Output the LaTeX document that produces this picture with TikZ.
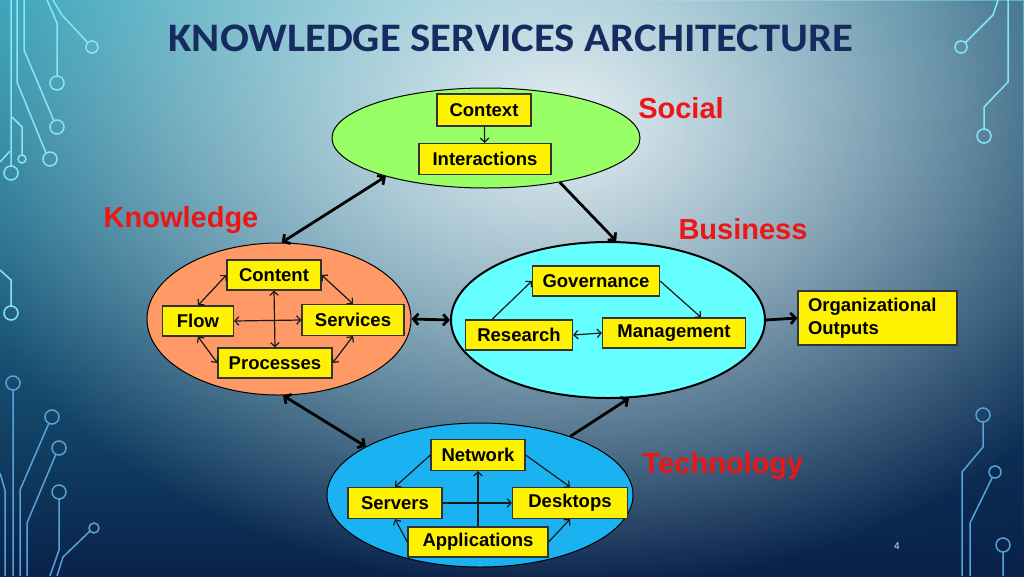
\documentclass[tikz,border=0pt]{standalone}
\usepackage{graphicx}
\usepackage{fontspec}
\setmainfont{Liberation Sans}
\newfontfamily\titlefont{Carlito}
\usetikzlibrary{shapes.geometric,arrows.meta,fadings}
\definecolor{bgtop}{RGB}{44,158,182}
\definecolor{bgmid}{RGB}{24,100,140}
\definecolor{bgbot}{RGB}{9,34,74}
\definecolor{glowc}{RGB}{230,238,242}
\definecolor{titleblue}{RGB}{22,44,96}
\definecolor{lblred}{RGB}{236,22,22}
\definecolor{socg}{RGB}{153,255,102}
\definecolor{knwo}{RGB}{255,153,102}
\definecolor{busc}{RGB}{102,255,255}
\definecolor{tecb}{RGB}{26,178,240}
\definecolor{circA}{RGB}{130,232,244}
\definecolor{circB}{RGB}{88,162,218}
\definecolor{pagenum}{RGB}{220,228,236}
\tikzfading[name=glowfade, inner color=transparent!0, outer color=transparent!100]
\tikzfading[name=rightdark, left color=transparent!100, right color=transparent!40]
\newcommand{\boxf}{\fontsize{18.5}{22}\selectfont\bfseries}
\newcommand{\lblf}{\fontsize{29}{32}\selectfont\bfseries}
\tikzset{
  ell/.style={ellipse, draw=black, line width=1pt, inner sep=0pt},
  box/.style={draw=black!80, fill=yellow, line width=1.2pt, inner sep=0pt, minimum height=30, font=\boxf},
  lbl/.style={text=lblred, font=\lblf, anchor=base, inner sep=0pt},
  bigarr/.style={line width=2.8pt, draw=black},
  dbl/.style={{Straight Barb[length=5pt,width=11pt]}-{Straight Barb[length=5pt,width=11pt]}},
  sgl/.style={-{Straight Barb[length=5pt,width=11pt]}},
  small/.style={line width=1.2pt, draw=black!90},
  sdbl/.style={{Straight Barb[length=4pt,width=8.5pt]}-{Straight Barb[length=4pt,width=8.5pt]}},
  ssgl/.style={-{Straight Barb[length=4pt,width=8.5pt]}},
  circa/.style={line width=1.5pt, draw=circA},
  circb/.style={line width=1.5pt, draw=circB},
}
\begin{document}
\begin{tikzpicture}[x=1pt,y=-1pt]
\useasboundingbox (0,0) rectangle (1024,576);
\clip (0,0) rectangle (1024,576);
% background
\shade[top color=bgtop, middle color=bgmid, bottom color=bgbot] (0,0) rectangle (1024,576);
\fill[bgbot, path fading=rightdark] (450,0) rectangle (1024,576);
\fill[glowc, path fading=glowfade] (560,120) ellipse [x radius=640, y radius=470];
% circuit decorations, top left
\draw[circa] (11,0) -- (11,166) (11,173) circle (7);
\draw[circa] (17,0) -- (17,82) -- (46,153) (50,159) circle (7);
\draw[circa] (24,0) -- (24,50) -- (54,121) (57,127) circle (7);
\draw[circa] (47,0) -- (57,23) -- (57,76) (57,83) circle (7);
\draw[circa] (53,0) -- (62,15) -- (88,43) (92,47) circle (6);
\draw[circa] (12,117) -- (22,127) -- (22,155) (22,159) circle (4);
\draw[circa] (0,162) -- (10,151);
% mid left
\draw[circa] (0,270) -- (11,280) -- (11,306) (11,313) circle (7);
% bottom left
\draw[circb] (13,390) -- (13,576) (13,383) circle (7);
\draw[circb] (49,423) -- (20,490) -- (20,576) (52,417) circle (7);
\draw[circb] (56,454) -- (27,523) -- (27,576) (59,448) circle (7);
\draw[circb] (59,499) -- (59,550) -- (50,576) (59,492) circle (7);
\draw[circb] (90,531) -- (63,557) -- (57,576) (94,528) circle (5);
\draw[circb] (0,473) -- (5,490) -- (5,576);
% top right
\draw[circa] (998,0) -- (993,15) -- (965,43) (961,47) circle (6);
\draw[circa] (1008,0) -- (1008,82) -- (984,107) -- (984,129) (984,136) circle (7);
% bottom right
\draw[circb] (983,422) -- (983,447) -- (962,472) -- (962,576) (983,415) circle (7);
\draw[circb] (992,478) -- (970,523) -- (970,576) (995,472) circle (6);
\draw[circb] (1003,552) -- (1003,576) (1003,545) circle (7);
% title and labels
\node[font=\titlefont\fontsize{40.5}{42}\selectfont\bfseries, text=titleblue, anchor=base, inner sep=0pt] (title) at (511,51) {\scalebox{1.055}[1]{KNOWLEDGE SERVICES ARCHITECTURE}};
\node[lbl] (lsoc) at (681,118) {Social};
\node[lbl] (lknw) at (181,227) {Knowledge};
\node[lbl] (lbus) at (743,239) {Business};
\node[lbl] (ltec) at (723,473) {Technology};
\node[text=pagenum, font=\fontsize{10}{12}\selectfont, anchor=base, inner sep=0pt] (pnum) at (897,549) {4};
% ellipses
\node[ell, fill=socg, minimum width=308, minimum height=100] (soc) at (486,138) {};
\node[ell, fill=knwo, minimum width=264, minimum height=152] (knw) at (279,319) {};
\node[ell, fill=busc, line width=2pt, minimum width=314, minimum height=156] (bus) at (608,320) {};
\node[ell, fill=tecb, minimum width=306, minimum height=144] (tec) at (480,495) {};
% social boxes
\node[box, minimum width=94, minimum height=32] (ctx) at (484,110) {Context};
\node[box, minimum width=132, minimum height=31] (int) at (485,159) {Interactions};
\draw[small, ssgl] (ctx) -- (int);
% knowledge boxes
\node[box, minimum width=94] (cont) at (274,275) {Content};
\node[box, minimum width=71] (flow) at (198,321) {Flow};
\node[box, minimum width=102, minimum height=31] (serv) at (353,320) {Services};
\node[box, minimum width=114] (proc) at (275,363) {Processes};
\draw[small, sdbl] (cont.west) -- (flow.north);
\draw[small, sdbl] (cont.east) -- (serv.north);
\draw[small, sdbl] (flow.south) -- (proc.west);
\draw[small, sdbl] (serv.south) -- (proc.east);
\draw[small, sdbl] (flow.east) -- (serv.west);
\draw[small, sdbl] (cont.south) -- (proc.north);
% business boxes
\node[box, minimum width=127] (gov) at (596,281) {Governance};
\node[box, minimum width=107] (res) at (519,335) {Research};
\node[box, minimum width=143] (man) at (674,333) {Management};
\draw[small, ssgl] (res.150) -- (gov.west);
\draw[small, ssgl] (gov.east) -- (man.30);
\draw[small, sdbl] (res.east) -- (man.west);
% technology boxes
\node[box, minimum width=94, minimum height=31] (net) at (478,455) {Network};
\node[box, minimum width=94, minimum height=31] (srv) at (395,503) {Servers};
\node[box, minimum width=115, minimum height=31] (dsk) at (570,503) {Desktops};
\node[box, minimum width=140] (app) at (478,542) {Applications};
\draw[small, ssgl] (net.west) -- (srv.north);
\draw[small, ssgl] (net.east) -- (dsk.north);
\draw[small, ssgl] (srv.east) -- (dsk.west);
\draw[small, ssgl] (app.north) -- (net.south);
\draw[small, ssgl] (app.west) -- (srv.south);
\draw[small, ssgl] (app.east) -- (dsk.south);
% outputs
\node[box, text width=139, align=left, minimum height=54, inner xsep=10pt, font=\fontsize{18.5}{23}\selectfont\bfseries] (org) at (877.5,318) {Organizational\\Outputs};
% main connectors
\draw[bigarr, dbl] (soc.201) -- (knw.88);
\draw[bigarr, sgl] (soc.329) -- (bus.84);
\draw[bigarr, dbl] (knw.east) -- (bus.west);
\draw[bigarr, dbl] (knw.273) -- (tec.157);
\draw[bigarr, sgl] (tec.33.5) -- (bus.285);
\draw[bigarr, sgl] (bus.east) -- (org.west);
\end{tikzpicture}
\end{document}
